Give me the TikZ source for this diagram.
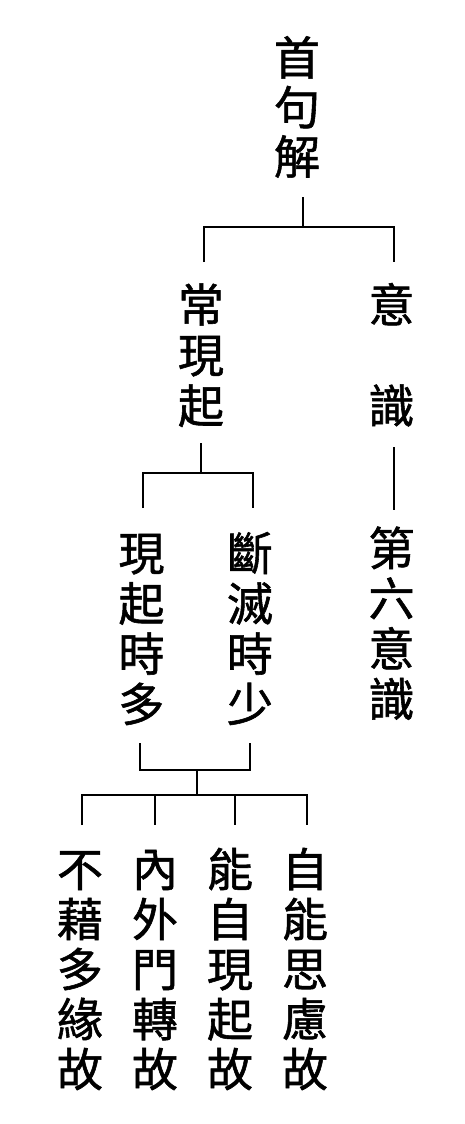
\documentclass[tikz,border=0pt]{standalone}
\usepackage{fontspec}
\newfontfamily\cjk[FakeBold=1.2]{Noto Sans CJK TC}
\begin{document}
\begin{tikzpicture}[x=1pt,y=-1pt,
  ch/.style={font=\cjk\fontsize{46}{50}\selectfont, inner sep=0pt, text height=40.5pt, text depth=5.5pt, anchor=center},
  conn/.style={line width=1.8pt, line join=miter}]
\fill[white] (0,0) rectangle (464,1124);
\useasboundingbox (0,0) rectangle (464,1124);
% top column
\foreach \c [count=\i] in {首,句,解}
  \node[ch] (a\i) at (297,{57.5+49.5*(\i-1)}) {\c};
% second level
\foreach \c [count=\i] in {常,現,起}
  \node[ch] (b\i) at (201,{304.5+50.5*(\i-1)}) {\c};
\node[ch] (c1) at (391.5,304.5) {意};
\node[ch] (c2) at (391.5,405.5) {識};
\foreach \c [count=\i] in {第,六,意,識}
  \node[ch] (d\i) at (391.5,{548+50.3*(\i-1)}) {\c};
% third level
\foreach \c [count=\i] in {現,起,時,多}
  \node[ch] (e\i) at (141.5,{553+50.3*(\i-1)}) {\c};
\foreach \c [count=\i] in {斷,滅,時,少}
  \node[ch] (f\i) at (250,{553+50.3*(\i-1)}) {\c};
% bottom level
\foreach \c [count=\i] in {不,藉,多,緣,故}
  \node[ch] (g\i) at (80,{869+50*(\i-1)}) {\c};
\foreach \c [count=\i] in {內,外,門,轉,故}
  \node[ch] (h\i) at (155,{869+50*(\i-1)}) {\c};
\foreach \c [count=\i] in {能,自,現,起,故}
  \node[ch] (k\i) at (230,{869+50*(\i-1)}) {\c};
\foreach \c [count=\i] in {自,能,思,慮,故}
  \node[ch] (m\i) at (305,{869+50*(\i-1)}) {\c};
% junction coordinates
\coordinate (p0) at (302.7,197);
\coordinate (p1) at (302.7,227);
\coordinate (pl) at (204,227);
\coordinate (pr) at (394,227);
\coordinate (plb) at (204,262);
\coordinate (prb) at (394,262);
\coordinate (q0) at (394,447);
\coordinate (q1) at (394,510);
\coordinate (r0) at (200.7,443);
\coordinate (r1) at (200.7,473);
\coordinate (rl) at (143,473);
\coordinate (rr) at (253,473);
\coordinate (rlb) at (143,508);
\coordinate (rrb) at (253,508);
\coordinate (s0) at (140,743);
\coordinate (s1) at (140,770);
\coordinate (s2) at (250,770);
\coordinate (s3) at (250,743);
\coordinate (sm) at (196.7,770);
\coordinate (t0) at (196.7,795);
\coordinate (t1) at (82,795);
\coordinate (t4) at (307,795);
\coordinate (t2) at (155,795);
\coordinate (t3) at (235,795);
\coordinate (u1) at (82,825);
\coordinate (u2) at (155,825);
\coordinate (u3) at (235,825);
\coordinate (u4) at (307,825);
% connectors
\draw[conn] (p0) -- (p1);
\draw[conn] (plb) -- (pl) -- (pr) -- (prb);
\draw[conn] (q0) -- (q1);
\draw[conn] (r0) -- (r1);
\draw[conn] (rlb) -- (rl) -- (rr) -- (rrb);
\draw[conn] (s0) -- (s1) -- (s2) -- (s3);
\draw[conn] (sm) -- (t0);
\draw[conn] (u1) -- (t1) -- (t4) -- (u4);
\draw[conn] (t2) -- (u2);
\draw[conn] (t3) -- (u3);
\end{tikzpicture}
\end{document}
